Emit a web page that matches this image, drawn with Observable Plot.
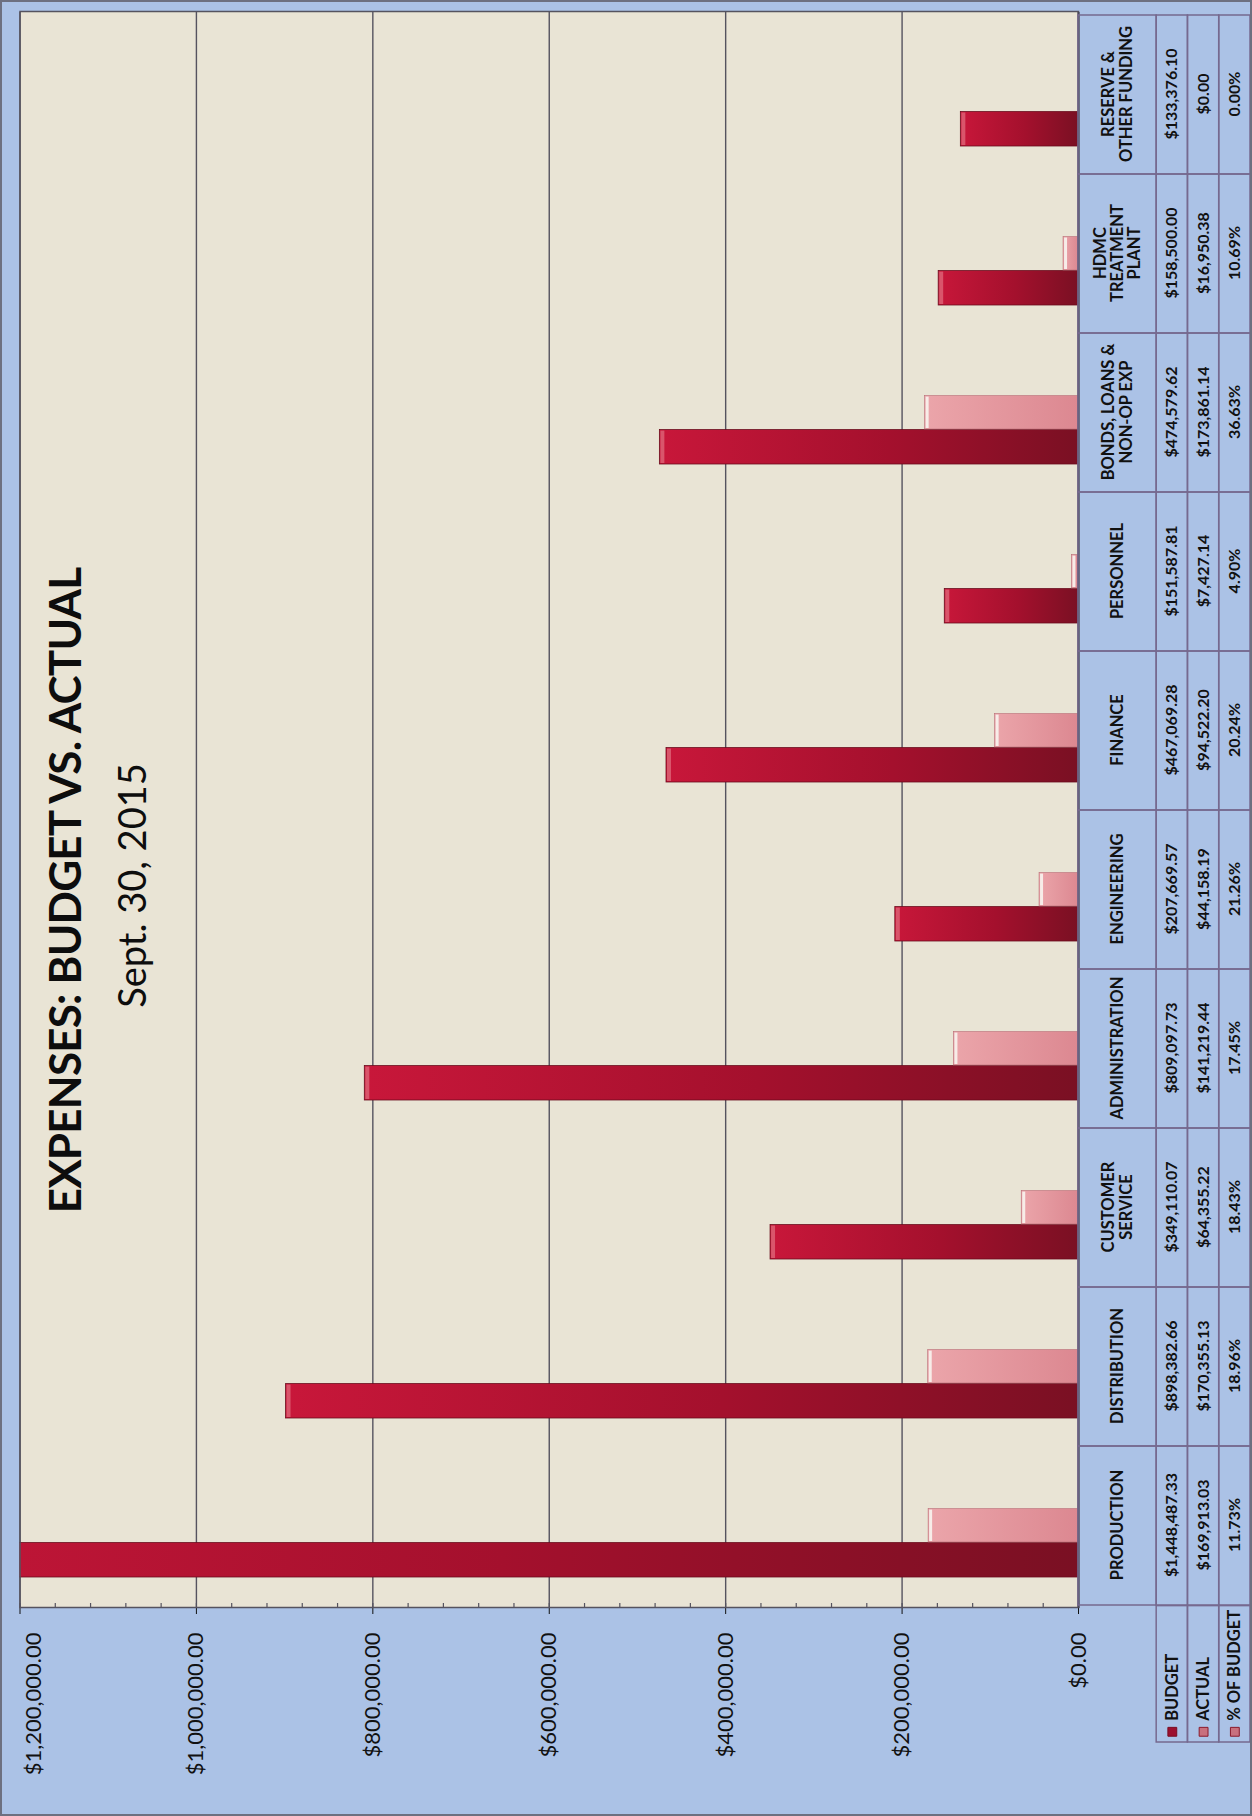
<!DOCTYPE html>
<html>
<head>
<meta charset="utf-8">
<script src="https://cdn.jsdelivr.net/npm/d3@7"></script>
<script src="https://cdn.jsdelivr.net/npm/@observablehq/plot@0.6"></script>
<style>
html, body { margin: 0; padding: 0; background: #abc2e6; overflow: hidden; }
#page { position: relative; width: 1252px; height: 1816px; overflow: hidden; background: #abc2e6; }
#land { position: absolute; left: 0; top: 0; width: 1816px; height: 1252px;
        transform-origin: 0 0; transform: translate(0px, 1816px) rotate(-90deg); }
#land svg { position: absolute; left: 0; overflow: visible; }
#border { position: absolute; left: 0; top: 0; right: 0; bottom: 0; border: 2px solid #6d7080; pointer-events: none; }
</style>
</head>
<body>
<div id="page"><div id="land"></div><div id="border"></div></div>
<script>
// ---- data ----
const categories = ["PRODUCTION", "DISTRIBUTION", "CUSTOMER SERVICE", "ADMINISTRATION", "ENGINEERING",
  "FINANCE", "PERSONNEL", "BONDS, LOANS & NON-OP EXP", "HDMC TREATMENT PLANT", "RESERVE & OTHER FUNDING"];
const headerLabels = ["PRODUCTION", "DISTRIBUTION", "CUSTOMER\nSERVICE", "ADMINISTRATION", "ENGINEERING",
  "FINANCE", "PERSONNEL", "BONDS, LOANS &\nNON-OP EXP", "HDMC\nTREATMENT\nPLANT", "RESERVE &\nOTHER FUNDING"];
const budget = [1448487.33, 898382.66, 349110.07, 809097.73, 207669.57, 467069.28, 151587.81, 474579.62, 158500.00, 133376.10];
const actual = [169913.03, 170355.13, 64355.22, 141219.44, 44158.19, 94522.20, 7427.14, 173861.14, 16950.38, 0.00];
const pctOfBudget = [11.73, 18.96, 18.43, 17.45, 21.26, 20.24, 4.90, 36.63, 10.69, 0.00];
const seriesNames = ["BUDGET", "ACTUAL", "% OF BUDGET"];
const yTicks = [0, 200000, 400000, 600000, 800000, 1000000, 1200000];
const title = "EXPENSES: BUDGET VS. ACTUAL";
const subtitle = "Sept. 30, 2015";

// ---- layout (landscape, rotated afterwards) ----
const W = 1816, H = 1252;
const mL = 208, mR = 12, mT = 19.5, plotBottom = 1078;
const bandW = (W - mL - mR) / categories.length;
const money = d3.format("$,.2f");
const pctFmt = d => d3.format(".2f")(d) + "%";
const FONT = "Lato, 'Open Sans', sans-serif";
const yMax = yTicks[yTicks.length - 1];

const rows = categories.map((c, i) => ({category: c, header: headerLabels[i], budget: budget[i], actual: actual[i], pct: pctOfBudget[i]}));
const minorTicks = d3.range(0, yMax + 1, 40000);

const xScale = {type: "band", domain: categories, padding: 0, axis: null};

const main = Plot.plot({
  width: W, height: H,
  marginLeft: mL, marginRight: mR, marginTop: mT, marginBottom: H - plotBottom,
  style: {background: "#abc2e6", fontFamily: FONT, fontSize: "22px", color: "#111"},
  x: xScale,
  y: {domain: [0, yMax], ticks: yTicks, tickFormat: d => d === yMax ? "" : money(d), tickSize: 6, tickPadding: 19, label: null},
  marks: [
    Plot.frame({fill: "#e9e4d5"}),
    Plot.ruleY(yTicks, {stroke: "#55535f", strokeWidth: 1.4}),
    Plot.tickY(minorTicks, {y: d => d, stroke: "#55535f", strokeWidth: 1.2, insetRight: (W - mL - mR) - 5}),
    Plot.barY(rows, {x: "category", y: "budget", fill: "url(#gBudget)", stroke: "#6a0c1c", strokeWidth: 0.8,
      insetLeft: 28, insetRight: bandW - 63, clip: true}),
    Plot.tickY(rows, {x: "category", y: "budget", stroke: "#d9556b", strokeWidth: 4, dy: 2.5,
      insetLeft: 29, insetRight: bandW - 62, clip: true}),
    Plot.barY(rows.filter(d => d.actual > 0), {x: "category", y: "actual", fill: "url(#gActual)", stroke: "#b86a74", strokeWidth: 0.6,
      insetLeft: 63, insetRight: bandW - 97, clip: true}),
    Plot.tickY(rows.filter(d => d.actual > 0), {x: "category", y: "actual", stroke: "#f7ece8", strokeWidth: 3, dy: 2,
      insetLeft: 64, insetRight: bandW - 96, clip: true}),
    Plot.frame({stroke: "#55535f", strokeWidth: 1.5}),
    Plot.ruleY([0], {stroke: "#4a4858", strokeWidth: 2}),
    // top value label, nudged inside the picture as in the reference
    Plot.text([yMax], {y: d => d, text: d => money(d), frameAnchor: "left", textAnchor: "end", dx: -25, dy: 14, fontSize: 22, fill: "#111"}),
    Plot.text([title], {frameAnchor: "top", text: d => d, dx: -81, dy: 30, fontSize: 44, fontWeight: "bold", fill: "#0d0d0d"}),
    Plot.text([subtitle], {frameAnchor: "top", text: d => d, dx: -76, dy: 99, fontSize: 38, fill: "#0d0d0d"})
  ]
});

// title letter spacing (narrower, like the reference face)
d3.select(main).selectAll("text").filter(function() { return this.textContent === title; }).attr("letter-spacing", -0.8);

// gradients for the bars
const defs = d3.select(main).insert("defs", ":first-child");
const gb = defs.append("linearGradient").attr("id", "gBudget").attr("x1", 0).attr("y1", 0).attr("x2", 0).attr("y2", 1);
gb.append("stop").attr("offset", "0%").attr("stop-color", "#c8173a");
gb.append("stop").attr("offset", "55%").attr("stop-color", "#a4102d");
gb.append("stop").attr("offset", "100%").attr("stop-color", "#7a1023");
const ga = defs.append("linearGradient").attr("id", "gActual").attr("x1", 0).attr("y1", 0).attr("x2", 0).attr("y2", 1);
ga.append("stop").attr("offset", "0%").attr("stop-color", "#eba5aa");
ga.append("stop").attr("offset", "100%").attr("stop-color", "#dc8891");

// ---- data table under the chart ----
const tableRows = [
  {key: "header", span: 2.5},
  {key: "BUDGET", span: 1},
  {key: "ACTUAL", span: 1},
  {key: "% OF BUDGET", span: 1}
];
let acc = 0;
tableRows.forEach(r => { r.y1 = acc; acc += r.span; r.y2 = acc; r.mid = (r.y1 + r.y2) / 2; });
const totalUnits = acc;
const cells = rows.flatMap(r => tableRows.map(t => ({category: r.category, y1: t.y1, y2: t.y2})));
const legendRows = tableRows.slice(1).map((t, i) => ({name: seriesNames[i], y1: t.y1, y2: t.y2, mid: t.mid}));
const tableH = H - plotBottom;
const lineColor = "#76698f";
const firstCenter = mL + bandW / 2;

const table = Plot.plot({
  width: W, height: tableH,
  marginLeft: mL, marginRight: mR, marginTop: 0, marginBottom: 2,
  style: {background: "transparent", fontFamily: FONT, color: "#111"},
  x: xScale,
  y: {domain: [0, totalUnits], range: [0, tableH - 2], axis: null},
  marks: [
    Plot.barY(cells, {x: "category", y1: "y1", y2: "y2", fill: "none", stroke: lineColor, strokeWidth: 1.5}),
    Plot.barY(legendRows, {x: () => categories[0], y1: "y1", y2: "y2", fill: "none", stroke: lineColor, strokeWidth: 1.5,
      insetRight: bandW - 137, dx: -137}),
    Plot.text(rows, {x: "category", y: () => tableRows[0].mid, text: "header", fontSize: 16.5, fontWeight: "bold", lineHeight: 1.05, fill: "#111"}),
    Plot.text(rows, {x: "category", y: () => tableRows[1].mid, text: d => money(d.budget), fontSize: 16, fontWeight: "bold", fill: "#111"}),
    Plot.text(rows, {x: "category", y: () => tableRows[2].mid, text: d => money(d.actual), fontSize: 16, fontWeight: "bold", fill: "#111"}),
    Plot.text(rows, {x: "category", y: () => tableRows[3].mid, text: d => pctFmt(d.pct), fontSize: 16, fontWeight: "bold", fill: "#111"}),
    Plot.dot(legendRows, {x: () => categories[0], y: "mid", symbol: "square", r: 5, dx: 81 - firstCenter,
      fill: (d, i) => ["#9c1030", "#c8707e", "#c8707e"][i], stroke: (d, i) => ["#7a0c22", "#8a1a2c", "#8a1a2c"][i], strokeWidth: 1}),
    Plot.text(legendRows, {x: () => categories[0], y: "mid", text: "name", textAnchor: "start", dx: 92 - firstCenter,
      fontSize: 16.5, fontWeight: "bold", fill: "#111"})
  ]
});

const land = document.getElementById("land");
main.style.top = "0px";
table.style.top = plotBottom + "px";
land.appendChild(main);
land.appendChild(table);
</script>
</body>
</html>
